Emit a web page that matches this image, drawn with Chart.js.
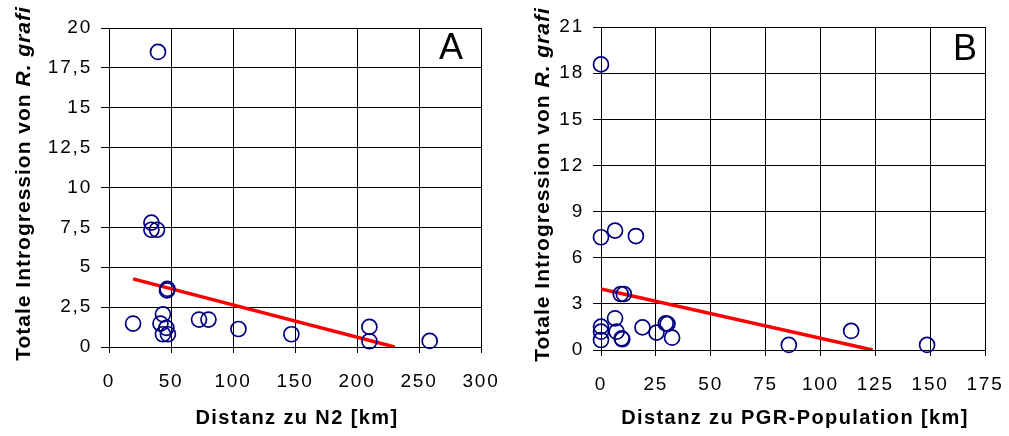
<!DOCTYPE html>
<html>
<head>
<meta charset="utf-8">
<script src="https://cdn.jsdelivr.net/npm/chart.js@4/dist/chart.umd.min.js"></script>
<style>
  body { margin: 0; background: #fff; }
  #wrap { position: relative; width: 1009px; height: 436px; }
  .panel { position: absolute; top: 0; height: 436px; }
</style>
</head>
<body>
<div id="wrap">
  <div class="panel" style="left:0;width:510px"><canvas id="chartA"></canvas></div>
  <div class="panel" style="left:500px;width:509px"><canvas id="chartB"></canvas></div>
</div>
<script>
// Panel A: Distanz zu N2
const distN2 = [39.5, 34.2, 34.2, 38.7, 47.1, 46.8, 43.5, 19.4, 41.5, 46.3, 43.5, 47.5, 72.6, 80.2, 104.4, 147.1, 210.0, 210.0, 258.6];
const introA = [18.5, 7.8, 7.35, 7.35, 3.65, 3.55, 2.05, 1.47, 1.47, 1.2, 0.8, 0.8, 1.72, 1.72, 1.13, 0.8, 1.26, 0.36, 0.38];
const trendAx = [19.4, 230.4];
const trendAy = [4.27, 0];

// Panel B: Distanz zu PGR-Population
const distPGR = [0, 0, 6.4, 15.9, 9.0, 10.4, 6.4, 0, 0, 0, 7.1, 9.4, 9.7, 18.9, 25.3, 29.5, 30.3, 32.4, 85.6, 114.0, 148.6];
const introB = [18.57, 7.33, 7.76, 7.41, 3.64, 3.64, 2.06, 1.52, 1.19, 0.65, 1.19, 0.76, 0.7, 1.47, 1.13, 1.73, 1.7, 0.8, 0.33, 1.24, 0.33];
const trendBx = [0, 123.8];
const trendBy = [3.97, 0];

const FONT = "'Liberation Sans', Arial, sans-serif";

const toPoints = (xs, ys) => xs.map((x, i) => ({ x: x, y: ys[i] }));

// Titles and panel letter drawn by hand (mixed bold / italic y title)
const panelText = {
    id: 'panelText',
    beforeUpdate(chart) { chart.ctx.letterSpacing = '1.8px'; },
    beforeDraw(chart) { chart.ctx.letterSpacing = '1.8px'; },
    afterDraw(chart, args, opts) {
        const ctx = chart.ctx;
        const area = chart.chartArea;
        ctx.save();
        ctx.fillStyle = '#000';

        // panel letter
        ctx.letterSpacing = '0px';
        ctx.font = '36px ' + FONT;
        ctx.textAlign = 'center';
        ctx.textBaseline = 'alphabetic';
        ctx.fillText(opts.letter, area.right - opts.letterDx, area.top + opts.letterDy);

        // x title
        ctx.letterSpacing = '1.4px';
        ctx.font = 'bold 20px ' + FONT;
        ctx.fillText(opts.xTitle, (area.left + area.right) / 2 + 2, chart.height - 12);

        // y title
        ctx.letterSpacing = '1px';
        const parts = [
            { t: 'Totale Introgression von ', f: 'bold 21px ' + FONT },
            { t: 'R. grafi', f: 'italic bold 21px ' + FONT }
        ];
        let total = 0;
        parts.forEach(p => { ctx.font = p.f; p.w = ctx.measureText(p.t).width; total += p.w; });
        ctx.translate(opts.yTitleX, (area.top + area.bottom) / 2 - 4);
        ctx.rotate(-Math.PI / 2);
        ctx.textAlign = 'left';
        let x = -total / 2;
        parts.forEach(p => { ctx.font = p.f; ctx.fillText(p.t, x, 0); x += p.w; });
        ctx.restore();
    }
};

function makeChart(id, cfg) {
    const commaTick = v => String(v).replace('.', ',');
    return new Chart(document.getElementById(id), {
        type: 'scatter',
        data: {
            datasets: [{
                data: toPoints(cfg.xs, cfg.ys),
                pointStyle: 'circle',
                pointRadius: 7.5,
                pointHoverRadius: 7.5,
                pointBorderWidth: 1.7,
                borderColor: '#000080',
                backgroundColor: 'rgba(0,0,0,0)',
                clip: false
            }, {
                data: toPoints(cfg.tx, cfg.ty),
                showLine: true,
                borderColor: '#ff0000',
                borderWidth: 3.5,
                pointRadius: 0
            }]
        },
        options: {
            responsive: true,
            maintainAspectRatio: false,
            animation: false,
            layout: { padding: { top: cfg.padTop, right: cfg.padRight, left: 0, bottom: 0 } },
            plugins: {
                legend: { display: false },
                tooltip: { enabled: false },
                panelText: {
                    letter: cfg.letter, letterDx: cfg.letterDx, letterDy: cfg.letterDy,
                    xTitle: cfg.xTitle, yTitleX: cfg.yTitleX
                }
            },
            scales: {
                x: {
                    type: 'linear',
                    min: 0, max: cfg.xMax,
                    afterFit: s => {
                        s.height = cfg.xHeight;
                        // edge labels may overhang, the layout padding covers them
                        s.paddingLeft = 0;
                        s.paddingRight = 0;
                    },
                    ticks: { stepSize: cfg.xStep, color: '#000', padding: 17, maxRotation: 0,
                             font: { family: FONT, size: 19 } },
                    grid: { color: '#000', lineWidth: 1, tickLength: 6 },
                    border: { color: '#000' }
                },
                y: {
                    min: 0, max: cfg.yMax,
                    afterFit: s => {
                        s.width = cfg.yWidth;
                        s.paddingTop = 0;
                        s.paddingBottom = 0;
                    },
                    ticks: { stepSize: cfg.yStep, color: '#000', padding: 9, callback: commaTick,
                             font: { family: FONT, size: 19 } },
                    grid: { color: '#000', lineWidth: 1, tickLength: 8 },
                    border: { color: '#000' }
                }
            }
        },
        plugins: [panelText]
    });
}

makeChart('chartA', {
    xs: distN2, ys: introA, tx: trendAx, ty: trendAy,
    xMax: 300, xStep: 50, yMax: 20, yStep: 2.5,
    yWidth: 109, xHeight: 89, padTop: 28, padRight: 29,
    letter: 'A', letterDx: 30, letterDy: 31,
    xTitle: 'Distanz zu N2 [km]', yTitleX: 30
});

makeChart('chartB', {
    xs: distPGR, ys: introB, tx: trendBx, ty: trendBy,
    xMax: 175, xStep: 25, yMax: 21, yStep: 3,
    yWidth: 101, xHeight: 86, padTop: 27, padRight: 24,
    letter: 'B', letterDx: 20, letterDy: 33,
    xTitle: 'Distanz zu PGR-Population [km]', yTitleX: 49
});
</script>
</body>
</html>
